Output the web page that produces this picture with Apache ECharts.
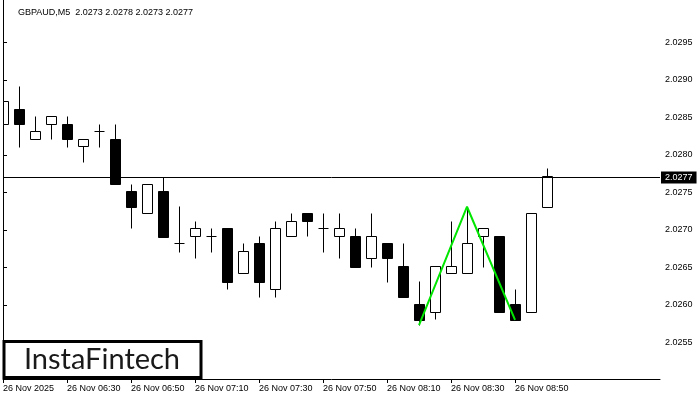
<!DOCTYPE html>
<html>
<head>
<meta charset="utf-8">
<script src="https://cdn.jsdelivr.net/npm/echarts@6/dist/echarts.min.js"></script>
<style>html,body{margin:0;padding:0;background:#fff;}#c{width:700px;height:400px;}</style>
</head>
<body>
<div id="c"></div>
<script>
// ---- data ----
var candleIdx = [0,1,2,3,4,5,6,7,8,9,10,11,12,13,14,15,16,17,18,19,20,21,22,23,24,25,26,27,28,29,30,31,32,33,34];
var openV  = [2.02842,2.02862,2.02822,2.02842,2.02842,2.02812,2.02832,2.02822,2.02752,2.02722,2.02752,2.02683,2.02692,2.02692,2.02702,2.02642,2.02682,2.02621,2.02692,2.02722,2.02702,2.02692,2.02692,2.02662,2.02682,2.02652,2.02601,2.02591,2.02642,2.02642,2.02692,2.02692,2.02601,2.02591,2.02731];
var highV  = [2.02882,2.02892,2.02852,2.02852,2.02852,2.02822,2.02842,2.02842,2.02762,2.02762,2.02771,2.02732,2.02712,2.02702,2.02702,2.02682,2.02692,2.02712,2.02722,2.02722,2.02722,2.02722,2.02702,2.02722,2.02682,2.02682,2.02632,2.02652,2.02712,2.02731,2.02702,2.02692,2.02621,2.02722,2.02783];
var lowV   = [2.02831,2.02811,2.02822,2.02822,2.02811,2.02791,2.02811,2.02762,2.02702,2.02722,2.02691,2.02671,2.02662,2.02671,2.02621,2.02642,2.02611,2.02611,2.02692,2.02692,2.02671,2.02662,2.02651,2.02651,2.02631,2.02611,2.02573,2.02581,2.02642,2.02642,2.02651,2.02591,2.02580,2.02591,2.02731];
var closeV = [2.02872,2.02842,2.02832,2.02852,2.02822,2.02822,2.02832,2.02762,2.02731,2.02762,2.02691,2.02683,2.02702,2.02692,2.02631,2.02672,2.02631,2.02702,2.02712,2.02712,2.02702,2.02702,2.02651,2.02692,2.02662,2.02611,2.02580,2.02652,2.02652,2.02682,2.02702,2.02591,2.02580,2.02722,2.02772];
var timeTickIdx = [0,4,8,12,16,20,24,28,32];
var timeTickLabels = ["26 Nov 2025","26 Nov 06:30","26 Nov 06:50","26 Nov 07:10","26 Nov 07:30","26 Nov 07:50","26 Nov 08:10","26 Nov 08:30","26 Nov 08:50"];
var priceTicks = [2.0255,2.0260,2.0265,2.0270,2.0275,2.0280,2.0285,2.0290,2.0295];
var currentPrice = 2.0277;
var patternIdx = [26,29,32];
var patternKind = ["low","high","low"];
var titleText = "GBPAUD,M5  2.0273 2.0278 2.0273 2.0277";

// ---- build ----
var ohlc = candleIdx.map(function(i,k){ return [i, openV[k], closeV[k], lowV[k], highV[k]]; });
var patternData = patternIdx.map(function(i,k){ return [i, patternKind[k]==="low" ? lowV[i] : highV[i]]; });

var FONT = "'Liberation Sans', Arial, sans-serif";
var xMin = 0, xMax = 41.06;

function renderItem(params, api){
  var x = api.value(0), o = api.value(1), c = api.value(2), l = api.value(3), h = api.value(4);
  var pO = api.coord([x,o]), pC = api.coord([x,c]), pL = api.coord([x,l]), pH = api.coord([x,h]);
  var cs = params.coordSys;
  var cx = Math.round(pO[0]) + 0.5;
  var children = [];
  var half = 5;
  if (cx >= cs.x) {
    children.push({type:'line', shape:{x1:cx,y1:Math.round(pH[1])+0.5,x2:cx,y2:Math.round(pL[1])+0.5}, style:{stroke:'#000',lineWidth:1}});
  }
  var yTop = Math.round(Math.min(pO[1],pC[1]))+0.5, yBot = Math.round(Math.max(pO[1],pC[1]))+0.5;
  var left = cx - half, right = cx + half;
  if (left < cs.x + 0.5) left = cs.x + 0.5;
  if (yBot - yTop < 1) {
    children.push({type:'line', shape:{x1:left,y1:yTop,x2:right,y2:yTop}, style:{stroke:'#000',lineWidth:1}});
  } else {
    children.push({type:'rect', shape:{x:left,y:yTop,width:right-left,height:yBot-yTop}, style:{fill: c > o ? '#fff' : '#000', stroke:'#000', lineWidth:1}});
  }
  return {type:'group', children:children};
}

var chart = echarts.init(document.getElementById('c'), null, {renderer:'canvas'});
var yMin = 2.025013, yMax = 2.030067;
chart.setOption({
  animation:false,
  backgroundColor:'#fff',
  grid:{left:3,right:40,top:0,bottom:21,containLabel:false},
  xAxis:{type:'value',min:xMin,max:xMax,
    axisLine:{show:true,lineStyle:{color:'#000',width:1}},
    axisTick:{show:true,length:4,customValues:timeTickIdx,lineStyle:{color:'#000'}},
    axisLabel:{show:true,customValues:timeTickIdx,margin:5,align:'left',fontSize:9,fontFamily:FONT,color:'#000',
      formatter:function(v){var k=timeTickIdx.indexOf(Math.round(v));return k>=0?timeTickLabels[k]:'';}},
    splitLine:{show:false}},
  yAxis:[
    {type:'value',position:'right',min:yMin,max:yMax,
      axisLine:{show:true,lineStyle:{color:'#000',width:1}},
      axisTick:{show:true,length:4,customValues:priceTicks,lineStyle:{color:'#000'}},
      axisLabel:{show:true,customValues:priceTicks,margin:5,fontSize:9,fontFamily:FONT,color:'#000',
        formatter:function(v){return v.toFixed(4);}},
      splitLine:{show:false}},
    {type:'value',position:'left',min:yMin,max:yMax,
      axisLine:{show:true,onZero:false,lineStyle:{color:'#000',width:1}},
      axisTick:{show:false},axisLabel:{show:false},splitLine:{show:false}}
  ],
  series:[
    {type:'custom',renderItem:renderItem,data:ohlc,encode:{x:0,y:[1,2,3,4]},yAxisIndex:0,silent:true},
    {type:'line',data:[[xMin,currentPrice],[xMax,currentPrice]],yAxisIndex:0,symbol:'none',silent:true,
      lineStyle:{color:'#000',width:1},z:3,
      endLabel:{show:true,distance:1,formatter:currentPrice.toFixed(4),color:'#fff',backgroundColor:'#000',
        padding:[2,4,1,4],fontSize:9,fontFamily:FONT}},
    {type:'line',data:patternData,yAxisIndex:0,symbol:'none',silent:true,
      lineStyle:{color:'#00e600',width:2},z:5}
  ],
  graphic:[
    {type:'text',left:18,top:8,style:{text:titleText,font:'9px '+FONT,fill:'#000'}},
    {type:'rect',shape:{x:4,y:341.5,width:197,height:36},style:{fill:'#fff',stroke:'#000',lineWidth:3},z:10},
    {type:'text',x:102,y:360,style:{text:'InstaFintech',font:'normal 29px Lato, sans-serif',fill:'#1a1a1a',align:'center',verticalAlign:'middle'},z:11}
  ]
});
</script>
</body>
</html>
